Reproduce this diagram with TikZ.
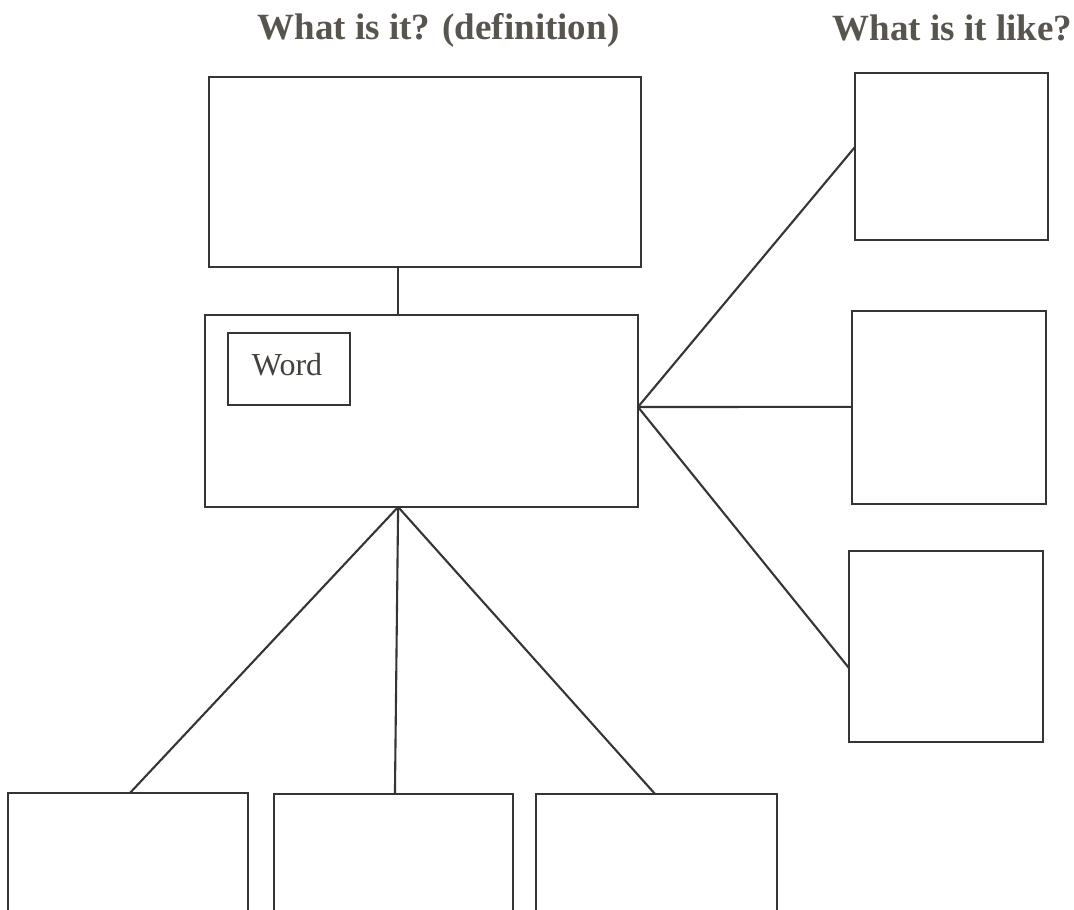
\documentclass[tikz,border=0pt]{standalone}
\usepackage{fontspec}
\setmainfont{Liberation Serif}
\usetikzlibrary{calc}
\definecolor{inkline}{RGB}{55,53,51}
\definecolor{inktext}{RGB}{88,84,78}
\definecolor{inkword}{RGB}{68,64,60}
\tikzset{
  box/.style={draw=inkline, line width=2.7pt, rectangle, inner sep=0pt, outer sep=0pt, anchor=north west, fill=none},
  link/.style={draw=inkline, line width=2.1pt},
  titletext/.style={text=inktext, font=\fontsize{37}{40}\selectfont\bfseries, inner sep=0pt, anchor=base},
  wordtext/.style={text=inkword, font=\fontsize{32}{36}\selectfont, inner sep=0pt, anchor=base}
}
\begin{document}
\begin{tikzpicture}[x=1pt,y=-1pt]
\clip (0,0) rectangle (1074,910);
\fill[white] (0,0) rectangle (1074,910);
% titles
\node[titletext] (t1) at (438.5,39) {What is it? (definition)};
\node[titletext] (t2) at (952.5,40) {What is it like?};
% boxes
\node[box, minimum width=432pt, minimum height=190pt] (top) at (209,77) {};
\node[box, minimum width=433pt, minimum height=192pt] (mid) at (205,315) {};
\node[box, minimum width=122pt, minimum height=72pt] (wbox) at (228,333) {};
\node[wordtext] (word) at (287,375) {Word};
\node[box, minimum width=193pt, minimum height=167pt] (r1) at (855,73) {};
\node[box, minimum width=194pt, minimum height=193pt] (r2) at (852,311) {};
\node[box, minimum width=194pt, minimum height=191pt] (r3) at (849,551) {};
\node[box, minimum width=240pt, minimum height=140pt] (b1) at (8,793) {};
\node[box, minimum width=239pt, minimum height=140pt] (b2) at (274,794) {};
\node[box, minimum width=241pt, minimum height=140pt] (b3) at (536,794) {};
% connectors
\coordinate (topjoin) at ($(top.south west)!0.4375!(top.south east)$);
\coordinate (hub) at ($(mid.south west)!0.446!(mid.south east)$);
\coordinate (east hub) at ($(mid.north east)!0.479!(mid.south east)$);
\draw[link] (topjoin) -- (topjoin |- mid.north);
\draw[link] (east hub) -- ($(r1.north west)!0.443!(r1.south west)$);
\draw[link] (east hub) -- ($(r2.north west)!0.497!(r2.south west)$);
\draw[link] (east hub) -- ($(r3.north west)!0.613!(r3.south west)$);
\draw[link] (hub) -- ($(b1.north west)!0.508!(b1.north east)$);
\draw[link] (hub) -- ($(b2.north west)!0.506!(b2.north east)$);
\draw[link] (hub) -- ($(b3.north west)!0.494!(b3.north east)$);
\end{tikzpicture}
\end{document}
